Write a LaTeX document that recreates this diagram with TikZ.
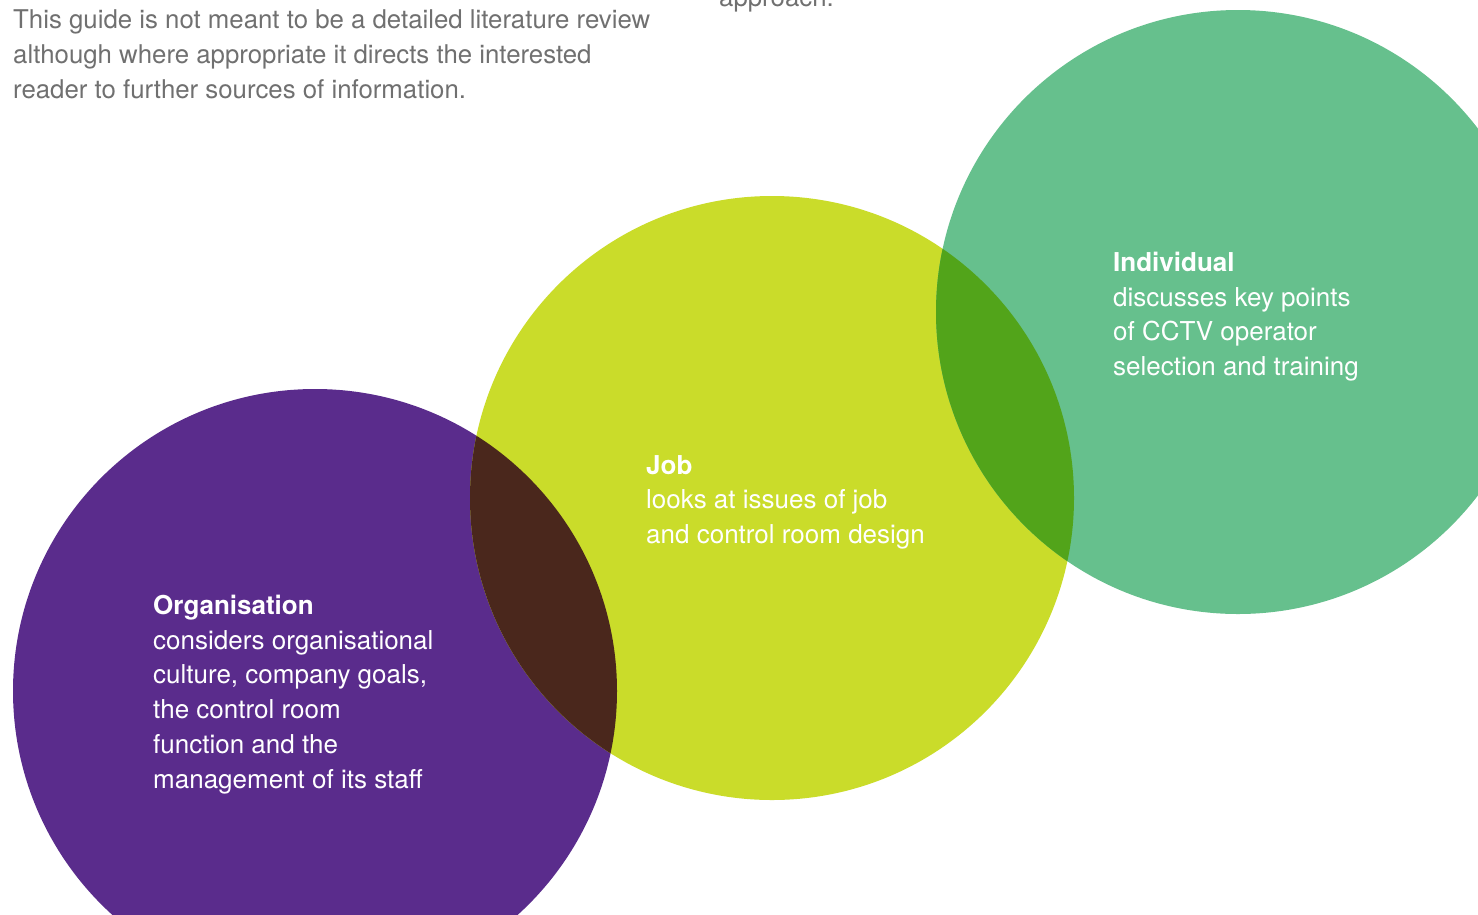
\documentclass[tikz,border=0pt]{standalone}
\usepackage{fontspec}
\setmainfont{TeX Gyre Heros}
\usepackage{xcolor}
\usepackage{tikz}

\definecolor{orgpurple}{RGB}{90,44,140}
\definecolor{joblime}{RGB}{202,220,42}
\definecolor{indgreen}{RGB}{102,192,141}
\definecolor{orgjob}{RGB}{74,39,28}
\definecolor{jobind}{RGB}{82,164,26}
\definecolor{introgray}{RGB}{112,112,112}

\tikzset{
	disc/.style={circle, inner sep=0pt, minimum size=604pt},
	intro/.style={anchor=north west, inner sep=0pt, align=left, text=introgray,
		font=\fontsize{25.8}{35}\selectfont},
	blurb/.style={anchor=north west, inner sep=0pt, align=left, text=white,
		font=\fontsize{26}{34.7}\selectfont}
}

\begin{document}
\begin{tikzpicture}[x=1pt,y=-1pt]
				\useasboundingbox (0,0) rectangle (1478,914);
				\begin{scope}
				\clip (0,0) rectangle (1478,914);
				% the three discs
				\foreach \n/\c/\x/\y in
				{org/orgpurple/315/691, job/joblime/772/498, ind/indgreen/1238/312}{
					\node[disc, fill=\c] (\n) at (\x,\y) {};
				}
				
				% overlaps
				\foreach \a/\b/\c in
				{org/job/orgjob, job/ind/jobind}{
					\begin{scope}
						\clip (\a.center) circle (302);
						\fill[\c] (\b.center) circle (302);
					\end{scope}
				}
				
				% text above
				\node[intro] (approach) at (719,-13) {approach.};
				\end{scope}
				\node[intro] (guide) at (13,9) {This guide is not meant to be a detailed literature review\\
					although where appropriate it directs the interested\\
					reader to further sources of information.};
				
				% labels in the discs
				\node[blurb] (orgtext) at (153,595) {\textbf{Organisation}\\
					considers organisational\\ culture, company goals,\\ the control room\\
					function and the\\ management of its staff};
				\node[blurb] (jobtext) at (646,455) {\textbf{Job}\\
					looks at issues of job\\ and control room design};
				\node[blurb] (indtext) at (1113,252) {\textbf{Individual}\\
					discusses key points\\ of CCTV operator\\ selection and training};
			\end{tikzpicture}
\end{document}
